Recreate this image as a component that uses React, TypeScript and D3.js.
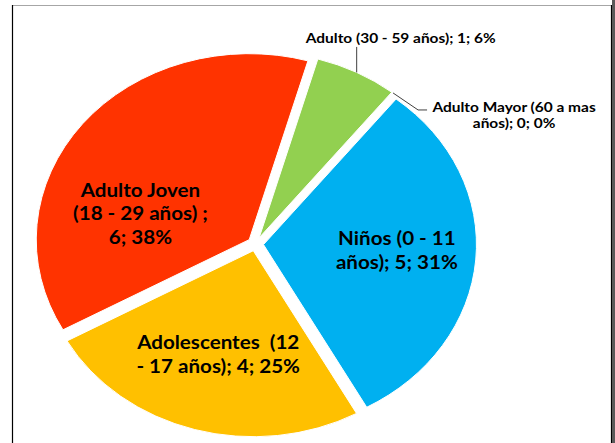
import * as d3 from "d3";

// data
const categories = [
  "Niños (0 - 11 años)",
  "Adolescentes  (12 - 17 años)",
  "Adulto Joven (18 - 29 años) ",
  "Adulto (30 - 59 años)",
  "Adulto Mayor (60 a mas años)",
];
const values = [5, 4, 6, 1, 0];
const colors = ["#00B0F0", "#FFC000", "#FF3300", "#92D050", "#A5A5A5"];
// character positions where each data label wraps
const labelBreaks = [[13], [17], [12, 29], [], [22]];

const W = 615;
const H = 443;
const cx = 255.5;
const cy = 244;
const R = 186;
const sx = 1.145; // picture is stretched horizontally
const explode = 7;
const startDeg = 38.5;

// label placement: inside labels use angle shift + radius fraction,
// outside labels use a leader line
const insideLabel: Record<number, { shift: number; frac: number }> = {
  0: { shift: -2.2, frac: 0.627 },
  1: { shift: 0.5, frac: 0.58 },
  2: { shift: -23, frac: 0.53 },
};
const outsideLabel: Record<number, { leader: [number, number][]; dx: number; dy: number }> = {
  3: { leader: [[0, -25.5]], dx: 44, dy: -29.7 },
  4: { leader: [[25, 17], [34, 17]], dx: 121, dy: 18.7 },
};

const total = d3.sum(values);
const pct = (v: number) => Math.round((v / total) * 100);

function wrap(text: string, breaks: number[]) {
  const out: string[] = [];
  let prev = 0;
  breaks.forEach((b) => {
    out.push(text.slice(prev, b).trim());
    prev = b;
  });
  out.push(text.slice(prev).trim());
  return out;
}

export default function App() {
  const start = (startDeg * Math.PI) / 180;
  const pie = d3
    .pie<number>()
    .sort(null)
    .value((d) => d)
    .startAngle(start)
    .endAngle(start + 2 * Math.PI);
  const arcs = pie(values);
  const arc = d3.arc<d3.PieArcDatum<number>>().innerRadius(0).outerRadius(R);

  // point on an exploded slice, in page coords
  const pt = (a: number, r: number, mid: number): [number, number] => [
    cx + sx * (Math.sin(mid) * explode + Math.sin(a) * r),
    cy - (Math.cos(mid) * explode + Math.cos(a) * r),
  ];

  return (
    <svg
      width={W}
      height={H}
      style={{ position: "absolute", left: 0, top: 0, background: "#fff" }}
      fontFamily="Lato, 'Open Sans', sans-serif"
      fontWeight="bold"
    >
      {/* frame */}
      <line x1={12.5} y1={5.5} x2={611} y2={5.5} stroke="#a6a6a6" />
      <line x1={12.5} y1={5} x2={12.5} y2={H} stroke="#000" strokeWidth={1.2} />
      <line x1={611.5} y1={5} x2={611.5} y2={H} stroke="#000" strokeWidth={1.2} />
      <rect x={612} y={0} width={3} height={H} fill="#595959" />

      <g transform={`translate(${cx},${cy}) scale(${sx},1)`}>
        {arcs.map((a, i) => {
          if (a.value === 0) return null;
          const mid = (a.startAngle + a.endAngle) / 2;
          return (
            <path
              key={i}
              d={arc(a) || ""}
              transform={`translate(${Math.sin(mid) * explode},${-Math.cos(mid) * explode})`}
              fill={colors[i]}
              stroke="#fff"
              strokeWidth={1}
              vectorEffect="non-scaling-stroke"
            />
          );
        })}
      </g>

      {arcs.map((a, i) => {
        const mid = (a.startAngle + a.endAngle) / 2;
        const lines = wrap(`${categories[i]}; ${values[i]}; ${pct(values[i])}%`, labelBreaks[i]);
        const inside = insideLabel[i];
        if (inside) {
          const [lx, ly] = pt(mid + (inside.shift * Math.PI) / 180, R * inside.frac, mid);
          const lh = 23.5;
          const y0 = ly - ((lines.length - 1) * lh) / 2 + 7;
          return (
            <g key={i} transform={`translate(${lx},0) scale(${sx},1)`}>
              <text textAnchor="middle" fontSize={18} fill="#000" style={{ whiteSpace: "pre" }}>
                {lines.map((l, j) => (
                  <tspan key={j} x={0} y={y0 + j * lh}>
                    {l}
                  </tspan>
                ))}
              </text>
            </g>
          );
        }
        const out = outsideLabel[i];
        const [ox, oy] = pt(mid, R, mid);
        const path = d3.line()([[ox, oy], ...out.leader.map(([dx, dy]) => [ox + dx, oy + dy] as [number, number])]);
        return (
          <g key={i}>
            <path d={path || ""} fill="none" stroke="#404040" strokeWidth={1} />
            <g transform={`translate(${ox + out.dx},0) scale(${sx},1)`}>
              <text textAnchor="middle" fontSize={13.5} fill="#000">
                {lines.map((l, j) => (
                  <tspan key={j} x={0} y={oy + out.dy + j * 16.5}>
                    {l}
                  </tspan>
                ))}
              </text>
            </g>
          </g>
        );
      })}
    </svg>
  );
}
